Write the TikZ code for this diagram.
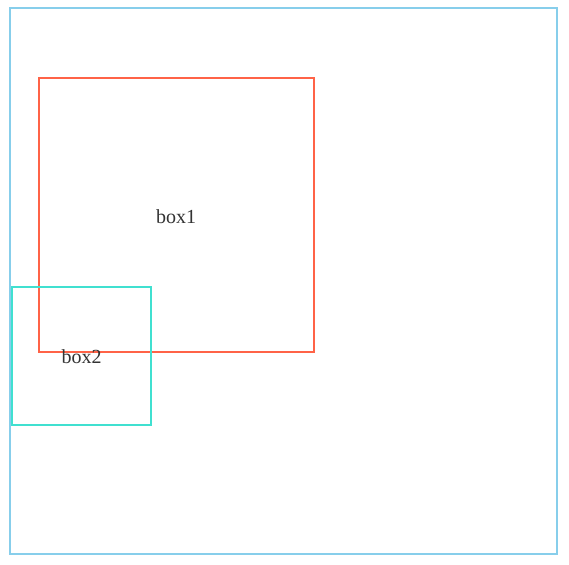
\documentclass[tikz,border=0pt]{standalone}
\usepackage{fontspec}
\setmainfont{Liberation Serif}
\definecolor{outerblue}{HTML}{87CEEB}
\definecolor{boxred}{HTML}{FF6347}
\definecolor{boxteal}{HTML}{40E0D0}
\definecolor{labelgray}{HTML}{333333}
\begin{document}
\begin{tikzpicture}[x=1pt, y=-1pt, line width=1.5pt,
    lbl/.style={text=labelgray, font=\fontsize{20}{24}\selectfont, inner sep=0pt}]
    \useasboundingbox (0,0) rectangle (569,564);
    \draw[outerblue] (10,8) rectangle (557,554);
    \draw[boxred] (39,78) rectangle (314,352);
    \draw[boxteal] (12,287) rectangle (151,425);
    \node[lbl] (box1) at (176,217) {box1};
    \node[lbl] (box2) at (81.5,357) {box2};
    \end{tikzpicture}
\end{document}
